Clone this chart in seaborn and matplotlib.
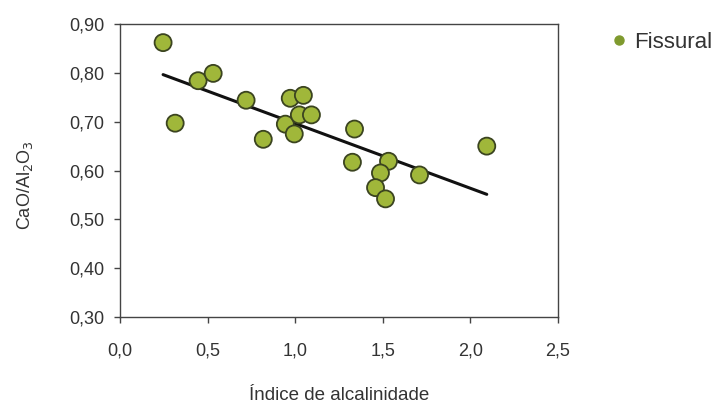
import pandas as pd
import matplotlib
matplotlib.use("Agg")
import matplotlib.pyplot as plt
import seaborn as sns
from matplotlib.ticker import FuncFormatter, MultipleLocator

# Dados (grupo Fissural)
indice_alcalinidade = [0.246, 0.315, 0.446, 0.532, 0.72, 0.818, 0.972, 0.944, 1.047, 1.024,
                       0.995, 1.093, 1.339, 1.327, 1.533, 1.487, 1.459, 1.516, 1.71, 2.094]
cao_al2o3 = [0.862, 0.697, 0.784, 0.799, 0.744, 0.664, 0.748, 0.695, 0.754, 0.714,
             0.675, 0.714, 0.685, 0.617, 0.619, 0.595, 0.565, 0.542, 0.591, 0.650]
grupo = ["Fissural"] * len(cao_al2o3)

df = pd.DataFrame({"indice": indice_alcalinidade, "razao": cao_al2o3, "grupo": grupo})

sns.set_style("white")
plt.rcParams["font.family"] = ["Liberation Sans", "DejaVu Sans"]

COR_PONTO = "#a0b73a"
COR_BORDA = "#3b4420"
COR_TEXTO = "#333333"

fig = plt.figure(figsize=(7.19, 4.08), dpi=100)
ax = fig.add_axes([0.1669, 0.223, 0.609, 0.718])

sns.regplot(data=df, x="indice", y="razao", ci=None, scatter=False, ax=ax,
            line_kws={"color": "#111111", "linewidth": 2.2})
sns.scatterplot(data=df, x="indice", y="razao", hue="grupo", palette=[COR_PONTO],
                s=150, edgecolor=COR_BORDA, linewidth=1.3, ax=ax, zorder=3, legend=False)

ax.set_xlim(0, 2.5)
ax.set_ylim(0.30, 0.90)
ax.xaxis.set_major_locator(MultipleLocator(0.5))
ax.yaxis.set_major_locator(MultipleLocator(0.1))
ax.xaxis.set_major_formatter(FuncFormatter(lambda v, p: f"{v:.1f}".replace(".", ",")))
ax.yaxis.set_major_formatter(FuncFormatter(lambda v, p: f"{v:.2f}".replace(".", ",")))

for s in ax.spines.values():
    s.set_color("#444444")
    s.set_linewidth(1.0)

ax.tick_params(axis="both", direction="out", length=4, width=1, color="#444444",
               labelsize=13, labelcolor=COR_TEXTO, bottom=True, left=True)
ax.tick_params(axis="y", pad=7)
ax.tick_params(axis="x", pad=14)

ax.set_xlabel("Índice de alcalinidade", fontsize=13.5, color=COR_TEXTO)
ax.set_ylabel("CaO/Al$_2$O$_3$", fontsize=13, color=COR_TEXTO)
ax.xaxis.set_label_coords(0.5, -0.238)
ax.yaxis.set_label_coords(-0.193, 0.45)

# legenda fora da área do gráfico
fig.legend(handles=[plt.Line2D([], [], marker="o", linestyle="", color="#7f9a2e",
                               markersize=6.5, markeredgecolor="#7f9a2e")],
           labels=["Fissural"], loc="center left", bbox_to_anchor=(0.845, 0.897),
           frameon=False, fontsize=16, handletextpad=0.2, handlelength=1.0,
           borderpad=0, borderaxespad=0, labelcolor=COR_TEXTO)

fig.savefig("out.png", dpi=100)
